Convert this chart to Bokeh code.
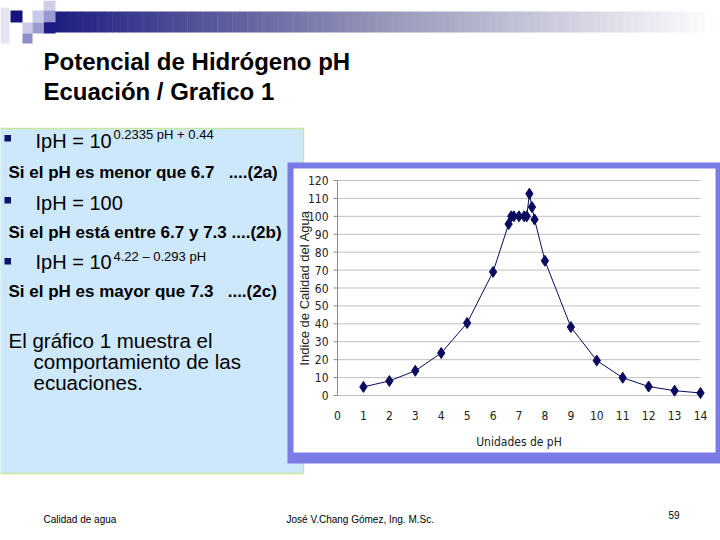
import math
from bokeh.plotting import figure
from bokeh.models import Range1d
from bokeh.core.properties import value
from bokeh.embed import file_html
from bokeh.resources import INLINE

# ---- data ----
ph_values = [1, 2, 3, 4, 5, 6, 6.6, 6.7, 6.8, 7.0, 7.2, 7.3, 7.4, 7.5, 7.6, 8, 9, 10, 11, 12, 13, 14]
iph_values = [4.8, 8.1, 13.8, 23.7, 40.5, 69.0, 95.7, 100, 100, 100, 100, 100, 112.6, 105.2, 98.3,
              75.2, 38.2, 19.5, 9.9, 5.0, 2.7, 1.4]
x_ticks = list(range(0, 15))
y_ticks = list(range(0, 121, 10))
x_tick_labels = [str(v) for v in x_ticks]
y_tick_labels = [str(v) for v in y_ticks]

title_lines = ["Potencial de Hidrógeno pH", "Ecuación / Grafico 1"]
x_label = "Unidades de pH"
y_label = "Indice de Calidad del Agua"

# ---- layout, in slide pixels ----
W, H = 720, 540
SL, ST, SR, SB = 0, 0, W, H
AX0, AX1 = 337.0, 700.0           # slide x of pH 0 and pH 14
AY0, AY1 = 395.0, 180.0           # slide y of IpH 0 and IpH 120
X_MIN, X_MAX = 0.0, 14.0
Y_MIN, Y_MAX = 0.0, 120.0

kx = (AX1 - AX0) / (X_MAX - X_MIN)
ky = (AY0 - AY1) / (Y_MAX - Y_MIN)

SANS = "Liberation Sans"
COND = "DejaVu Sans Condensed, Liberation Sans"
NAVY = "#0A0A60"
NB = "\u00a0"

p = figure(width=W, height=H, output_backend="svg", toolbar_location=None,
           x_range=Range1d(SL, SR), y_range=Range1d(SB, ST),
           x_axis_location=None, y_axis_location=None, min_border=0)
p.extra_x_ranges = {"ph": Range1d(X_MIN - (AX0 - SL) / kx, X_MAX + (SR - AX1) / kx)}
p.extra_y_ranges = {"iph": Range1d(Y_MIN - (SB - AY0) / ky, Y_MAX + (AY1 - ST) / ky)}
p.grid.visible = False
p.outline_line_color = None
p.background_fill_color = "white"
p.border_fill_color = "white"


def txt(x, y, s, size, bold=False, font=SANS, color="black", align="left",
        baseline="middle", angle=0.0, xr="default", yr="default"):
    p.text(x=[x], y=[y], text=[s], text_font=value(font), text_font_size=value(f"{size}px"),
           text_font_style="bold" if bold else "normal", text_color=color,
           text_align=align, text_baseline=baseline, angle=angle,
           x_range_name=xr, y_range_name=yr)


# ---- header gradient bar ----
def lerp(a, b, t):
    return tuple(int(round(u + (v - u) * t)) for u, v in zip(a, b))


c0, c1, c2 = (28, 28, 128), (150, 150, 185), (255, 255, 255)
N = 90
gx0, gx1 = 44.0, 720.0
gl, gr, gc = [], [], []
for i in range(N):
    t = i / (N - 1)
    col = lerp(c0, c1, t / 0.5) if t < 0.5 else lerp(c1, c2, (t - 0.5) / 0.5)
    gl.append(gx0 + (gx1 - gx0) * i / N)
    gr.append(gx0 + (gx1 - gx0) * (i + 1) / N + 0.5)
    gc.append("#%02x%02x%02x" % col)
p.quad(left=gl, right=gr, top=11, bottom=32, fill_color=gc, line_color=None)

# decorative squares
sq_l = [0, 10, 43, 32, 43, 43, 22, 32, 22]
sq_t = [7, 10, 0, 10, 10, 22, 22, 22, 33]
sq_r = [9, 22, 55, 43, 55, 55, 32, 43, 32]
sq_b = [43, 22, 10, 22, 22, 33, 33, 33, 43]
sq_c = ["#E4E4F2", "#14147A", "#CFCFEA", "#C9C9E8", "#9A9AD0", "#1C1C84", "#CACAE8", "#9C9CD0", "#8C8CC6"]
p.quad(left=sq_l, right=sq_r, top=sq_t, bottom=sq_b, fill_color=sq_c, line_color=None)

# text panel
p.quad(left=[-1], right=[303], top=[128], bottom=[473], fill_color="#CDE8FA",
       line_color="#C6E79C", line_width=1.5)
# chart panel
p.quad(left=[287], right=[721], top=[162], bottom=[463], fill_color="#7B7BE6", line_color=None)
p.quad(left=[293], right=[715], top=[168], bottom=[452], fill_color="white", line_color=None)

# ---- chart ----
p.segment(x0=[X_MIN] * len(y_ticks), x1=[X_MAX] * len(y_ticks), y0=y_ticks, y1=y_ticks,
          line_color="#C0C0C0", line_width=1, x_range_name="ph", y_range_name="iph")
p.segment(x0=[X_MIN], x1=[X_MIN], y0=[Y_MIN], y1=[Y_MAX], line_color="#8A8A8A", line_width=1,
          x_range_name="ph", y_range_name="iph")
p.segment(x0=[AX0 - 4] * len(y_ticks), x1=[AX0] * len(y_ticks), y0=y_ticks, y1=y_ticks,
          line_color="#8A8A8A", line_width=1, y_range_name="iph")
p.text(x=[AX0 - 9] * len(y_ticks), y=y_ticks, text=y_tick_labels, text_font=value(COND),
       text_font_size=value("12px"), text_color="#222222", text_align="right",
       text_baseline="middle", y_range_name="iph")
p.text(x=x_ticks, y=[AY0 + 20] * len(x_ticks), text=x_tick_labels, text_font=value(COND),
       text_font_size=value("12px"), text_color="#222222", text_align="center",
       text_baseline="middle", x_range_name="ph")
txt(304, (Y_MIN + Y_MAX) / 2, y_label, 13, font=SANS, color="#222222", align="center",
    angle=math.pi / 2, yr="iph")
txt((X_MIN + X_MAX) / 2, AY0 + 46, x_label, 12, font=COND, color="#222222", align="center",
    xr="ph")

p.line(ph_values, iph_values, line_color=NAVY, line_width=1, x_range_name="ph", y_range_name="iph")
p.scatter(ph_values, iph_values, marker="diamond", size=11, fill_color=NAVY, line_color=NAVY,
          x_range_name="ph", y_range_name="iph")

# ---- slide texts (y = vertical middle of the line) ----
txt(43, 61, title_lines[0], 24, bold=True)
txt(43, 91, title_lines[1], 24, bold=True)

p.quad(left=[4, 4, 4], right=[10.5, 10.5, 10.5], top=[134.5, 196.5, 257.5],
       bottom=[141, 203, 264], fill_color="#10106E", line_color=None)

txt(35, 140, "IpH = 10", 20)
txt(113, 134, "0.2335 pH + 0.44", 13)
txt(8, 172, "Si el pH es menor que 6.7" + NB * 3 + "....(2a)", 17, bold=True)
txt(35, 202, "IpH = 100", 20)
txt(8, 232, "Si el pH está entre 6.7 y 7.3 ....(2b)", 17, bold=True)
txt(35, 261, "IpH = 10", 20)
txt(113, 256, "4.22 – 0.293 pH", 13)
txt(8, 291, "Si el pH es mayor que 7.3" + NB * 3 + "....(2c)", 17, bold=True)
txt(8, 340, "El gráfico 1 muestra el", 20.5)
txt(33, 361, "comportamiento de las", 20.5)
txt(33, 382, "ecuaciones.", 20.5)

txt(43, 519, "Calidad de agua", 10)
txt(286, 519, "José V.Chang Gómez, Ing. M.Sc.", 10)
txt(668, 514.5, "59", 10)

open("out.html", "w").write(file_html(p, INLINE))
